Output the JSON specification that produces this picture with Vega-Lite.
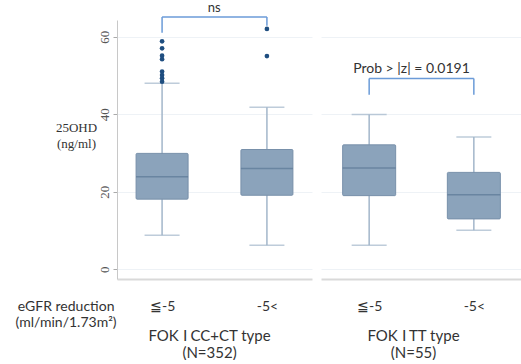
{
  "$schema": "https://vega.github.io/schema/vega-lite/v6.json",
  "autosize": {"type": "pad"},
  "padding": {"left": 15, "top": 2, "right": 0, "bottom": 0},
  "bounds": "flush",
  "spacing": 9,
  "config": {"view": {"stroke": null}, "font": "Lato"},
  "datasets": {
    "boxes": [
      {"panel": "CC", "grp": "≦-5", "lower": 8.8, "q1": 18.1, "median": 23.9, "q3": 29.9, "upper": 48.0},
      {"panel": "CC", "grp": "-5<", "lower": 6.2, "q1": 19.1, "median": 26.0, "q3": 30.9, "upper": 41.8},
      {"panel": "TT", "grp": "≦-5", "lower": 6.2, "q1": 19.0, "median": 26.1, "q3": 32.1, "upper": 39.9},
      {"panel": "TT", "grp": "-5<", "lower": 10.1, "q1": 13.0, "median": 19.2, "q3": 25.0, "upper": 34.1}
    ],
    "outliers": [
      {"panel": "CC", "grp": "≦-5", "value": 58.8},
      {"panel": "CC", "grp": "≦-5", "value": 57.0},
      {"panel": "CC", "grp": "≦-5", "value": 55.1},
      {"panel": "CC", "grp": "≦-5", "value": 54.2},
      {"panel": "CC", "grp": "≦-5", "value": 51.0},
      {"panel": "CC", "grp": "≦-5", "value": 50.1},
      {"panel": "CC", "grp": "≦-5", "value": 49.3},
      {"panel": "CC", "grp": "≦-5", "value": 48.4},
      {"panel": "CC", "grp": "-5<", "value": 62.0},
      {"panel": "CC", "grp": "-5<", "value": 55.0}
    ],
    "one": [{}]
  },
  "hconcat": [
    {
      "width": 195,
      "height": 259,
      "encoding": {
        "x": {"field": "grp", "type": "nominal", "sort": ["≦-5", "-5<"],
          "scale": {"type": "point", "padding": 0.43, "domain": ["≦-5", "-5<"]},
          "axis": {"title": ["FOK Ⅰ CC+CT type", "(N=352)"], "labelAngle": 0, "ticks": false, "labelPadding": 20,
            "domainColor": "#d9d9d9", "domainWidth": 2, "labelFont": "Lato", "labelFontSize": 14, "labelColor": "#333",
            "titleFont": "Lato", "titleFontSize": 15, "titleFontWeight": "normal", "titleColor": "#333",
            "titleX": 92, "titleY": 56, "titleBaseline": "middle", "titleAlign": "center", "titleLineHeight": 17, "grid": false}}
      },
      "layer": [
        {
          "data": {"name": "boxes"},
          "transform": [{"filter": "datum.panel === 'CC'"}],
          "mark": {"type": "rule", "color": "#a3b6ca", "strokeWidth": 1.5},
          "encoding": {
            "y": {"field": "lower", "type": "quantitative",
              "scale": {"domain": [-2.5, 64.3], "nice": false, "zero": false},
              "axis": {"values": [0, 20, 40, 60], "grid": true, "gridColor": "#eef2f6", "ticks": true, "tickSize": 4,
                "tickColor": "#aaa", "domainColor": "#c8c8c8", "labelAngle": -90, "labelFont": "Liberation Serif",
                "labelFontSize": 13, "labelColor": "#555", "labelPadding": 2,
                "title": ["25OHD", "(ng/ml)"], "titleAngle": 0, "titleX": -41, "titleY": 107, "titleAlign": "center",
                "titleBaseline": "middle", "titleFont": "Liberation Serif", "titleFontSize": 13, "titleFontWeight": "normal",
                "titleColor": "#333", "titleLineHeight": 16}},
            "y2": {"field": "upper"}
          }
        },
        {
          "data": {"name": "boxes"},
          "transform": [{"filter": "datum.panel === 'CC'"}],
          "mark": {"type": "tick", "color": "#a3b6ca", "size": 35, "thickness": 1.5},
          "encoding": {"y": {"field": "lower", "type": "quantitative"}}
        },
        {
          "data": {"name": "boxes"},
          "transform": [{"filter": "datum.panel === 'CC'"}],
          "mark": {"type": "tick", "color": "#a3b6ca", "size": 35, "thickness": 1.5},
          "encoding": {"y": {"field": "upper", "type": "quantitative"}}
        },
        {
          "data": {"name": "boxes"},
          "transform": [{"filter": "datum.panel === 'CC'"}],
          "mark": {"type": "bar", "size": 52, "fill": "#8ba3bb", "stroke": "#7890aa", "strokeWidth": 1, "cornerRadius": 1},
          "encoding": {"y": {"field": "q1", "type": "quantitative"}, "y2": {"field": "q3"}}
        },
        {
          "data": {"name": "boxes"},
          "transform": [{"filter": "datum.panel === 'CC'"}],
          "mark": {"type": "tick", "color": "#5b7795", "size": 52, "thickness": 1.5},
          "encoding": {"y": {"field": "median", "type": "quantitative"}}
        },
        {
          "data": {"name": "outliers"},
          "transform": [{"filter": "datum.panel === 'CC'"}],
          "mark": {"type": "circle", "color": "#1f4e80", "size": 22, "opacity": 1},
          "encoding": {"y": {"field": "value", "type": "quantitative"}}
        },
        {
          "data": {"name": "one"},
          "mark": {"type": "rule", "color": "#6b9bd8", "strokeWidth": 1.5},
          "encoding": {
            "x": {"datum": "≦-5", "type": "nominal"}, "x2": {"datum": "-5<"},
            "y": {"datum": 65.1, "type": "quantitative"}
          }
        },
        {
          "data": {"name": "one"},
          "mark": {"type": "rule", "color": "#6b9bd8", "strokeWidth": 1.5},
          "encoding": {
            "x": {"datum": "≦-5", "type": "nominal"},
            "y": {"datum": 65.1, "type": "quantitative"}, "y2": {"datum": 61.0}
          }
        },
        {
          "data": {"name": "one"},
          "mark": {"type": "rule", "color": "#6b9bd8", "strokeWidth": 1.5},
          "encoding": {
            "x": {"datum": "-5<", "type": "nominal"},
            "y": {"datum": 65.1, "type": "quantitative"}, "y2": {"datum": 62.8}
          }
        },
        {
          "data": {"name": "one"},
          "mark": {"type": "text", "text": "ns", "font": "Lato", "fontSize": 13, "color": "#333", "align": "center", "baseline": "middle", "dx": 52},
          "encoding": {
            "x": {"datum": "≦-5", "type": "nominal"},
            "y": {"datum": 67.3, "type": "quantitative"}
          }
        },
        {
          "data": {"name": "one"},
          "mark": {"type": "text", "text": ["eGFR reduction", "(ml/min/1.73m²)"], "font": "Lato", "fontSize": 14, "lineHeight": 16, "color": "#333", "align": "center", "baseline": "middle", "dx": -96},
          "encoding": {
            "x": {"datum": "≦-5", "type": "nominal"},
            "y": {"datum": -9.8, "type": "quantitative"}
          }
        }
      ]
    },
    {
      "width": 201,
      "height": 259,
      "encoding": {
        "x": {"field": "grp", "type": "nominal", "sort": ["≦-5", "-5<"],
          "scale": {"type": "point", "padding": 0.46, "domain": ["≦-5", "-5<"]},
          "axis": {"title": ["FOK Ⅰ TT type", "(N=55)"], "labelAngle": 0, "ticks": false, "labelPadding": 20,
            "domainColor": "#d9d9d9", "domainWidth": 2, "labelFont": "Lato", "labelFontSize": 14, "labelColor": "#333",
            "titleFont": "Lato", "titleFontSize": 15, "titleFontWeight": "normal", "titleColor": "#333",
            "titleX": 92, "titleY": 56, "titleBaseline": "middle", "titleAlign": "center", "titleLineHeight": 17, "grid": false}}
      },
      "layer": [
        {
          "data": {"name": "boxes"},
          "transform": [{"filter": "datum.panel === 'TT'"}],
          "mark": {"type": "rule", "color": "#a3b6ca", "strokeWidth": 1.5},
          "encoding": {
            "y": {"field": "lower", "type": "quantitative",
              "scale": {"domain": [-2.5, 64.3], "nice": false, "zero": false},
              "axis": {"values": [0, 20, 40, 60], "grid": true, "gridColor": "#eef2f6", "ticks": false, "labels": false, "domain": false, "title": null}},
            "y2": {"field": "upper"}
          }
        },
        {
          "data": {"name": "boxes"},
          "transform": [{"filter": "datum.panel === 'TT'"}],
          "mark": {"type": "tick", "color": "#a3b6ca", "size": 35, "thickness": 1.5},
          "encoding": {"y": {"field": "lower", "type": "quantitative"}}
        },
        {
          "data": {"name": "boxes"},
          "transform": [{"filter": "datum.panel === 'TT'"}],
          "mark": {"type": "tick", "color": "#a3b6ca", "size": 35, "thickness": 1.5},
          "encoding": {"y": {"field": "upper", "type": "quantitative"}}
        },
        {
          "data": {"name": "boxes"},
          "transform": [{"filter": "datum.panel === 'TT'"}],
          "mark": {"type": "bar", "size": 53, "fill": "#8ba3bb", "stroke": "#7890aa", "strokeWidth": 1, "cornerRadius": 1},
          "encoding": {"y": {"field": "q1", "type": "quantitative"}, "y2": {"field": "q3"}}
        },
        {
          "data": {"name": "boxes"},
          "transform": [{"filter": "datum.panel === 'TT'"}],
          "mark": {"type": "tick", "color": "#5b7795", "size": 53, "thickness": 1.5},
          "encoding": {"y": {"field": "median", "type": "quantitative"}}
        },
        {
          "data": {"name": "one"},
          "mark": {"type": "rule", "color": "#6b9bd8", "strokeWidth": 1.5},
          "encoding": {
            "x": {"datum": "≦-5", "type": "nominal"}, "x2": {"datum": "-5<"},
            "y": {"datum": 49.2, "type": "quantitative"}
          }
        },
        {
          "data": {"name": "one"},
          "mark": {"type": "rule", "color": "#6b9bd8", "strokeWidth": 1.5},
          "encoding": {
            "x": {"datum": "≦-5", "type": "nominal"},
            "y": {"datum": 49.2, "type": "quantitative"}, "y2": {"datum": 45.0}
          }
        },
        {
          "data": {"name": "one"},
          "mark": {"type": "rule", "color": "#6b9bd8", "strokeWidth": 1.5},
          "encoding": {
            "x": {"datum": "-5<", "type": "nominal"},
            "y": {"datum": 49.2, "type": "quantitative"}, "y2": {"datum": 45.0}
          }
        },
        {
          "data": {"name": "one"},
          "mark": {"type": "text", "text": "Prob > |z| =  0.0191", "font": "Lato", "fontSize": 14, "color": "#333", "align": "left", "baseline": "middle", "dx": -16},
          "encoding": {
            "x": {"datum": "≦-5", "type": "nominal"},
            "y": {"datum": 51.7, "type": "quantitative"}
          }
        }
      ]
    }
  ]
}
